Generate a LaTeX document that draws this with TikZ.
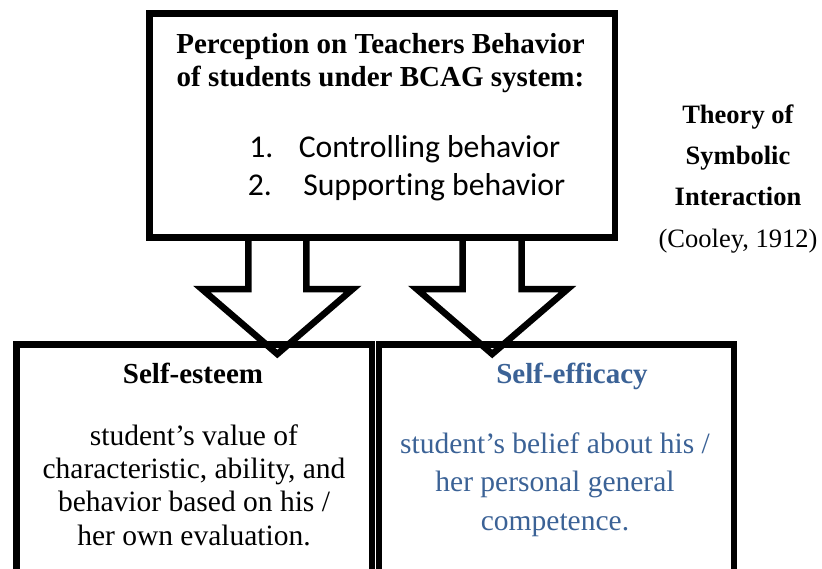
\documentclass[tikz,border=0pt]{standalone}
\usepackage{fontspec}
\setmainfont{Liberation Serif}
\newfontfamily\listfont[Ligatures=NoCommon]{Carlito}
\usepackage{tikz}
\definecolor{efficacyblue}{RGB}{59,98,150}

\begin{document}
\begin{tikzpicture}[x=1pt, y=-1pt, line width=6.5pt,
  lbl/.style={inner sep=0pt, anchor=base, align=center}]

\useasboundingbox (0,0) rectangle (822,568);
\clip (0,0) rectangle (822,568);

\draw (149.5,13.3) rectangle (615,237.5);
\draw (16.5,344.5) rectangle (372,620);
\draw (379,344.5) rectangle (734,620);

\draw (248.3,237.5) -- (248.3,289) -- (201.8,289) -- (277.3,354) -- (352.8,289) -- (306.3,289) -- (306.3,237.5);
\draw (462.7,237.5) -- (462.7,289) -- (416.7,289) -- (492.2,354) -- (567.7,289) -- (521.7,289) -- (521.7,237.5);

\node[lbl, font=\fontsize{29}{33}\selectfont\bfseries] (percep) at (380.5,86) {Perception on Teachers Behavior\\of students under BCAG system:};
\node[lbl, anchor=base west, font=\fontsize{31.7}{38}\selectfont\listfont] (num1) at (246,157) {1.};
\node[lbl, anchor=base west, font=\fontsize{31.7}{38}\selectfont\listfont] (ctrl) at (295.5,157) {Controlling behavior};
\node[lbl, anchor=base west, font=\fontsize{31.7}{38}\selectfont\listfont] (num2) at (244.5,195) {2.};
\node[lbl, anchor=base west, font=\fontsize{31.7}{38}\selectfont\listfont] (supp) at (300,195) {Supporting behavior};

\node[lbl, font=\fontsize{26.5}{41.3}\selectfont] (theory) at (738,247) {\textbf{Theory of}\\\textbf{Symbolic}\\\textbf{Interaction}\\(Cooley, 1912)};

\node[lbl, font=\fontsize{29}{33}\selectfont\bfseries] (esteem) at (193,383) {Self-esteem};
\node[lbl, font=\fontsize{29.5}{33.3}\selectfont] (esteemtxt) at (194,545) {student’s value of\\characteristic, ability, and\\behavior based on his /\\her own evaluation.};

\node[lbl, text=efficacyblue, font=\fontsize{29}{33}\selectfont\bfseries] (efficacy) at (572,383) {Self-efficacy};
\node[lbl, text=efficacyblue, font=\fontsize{29.5}{38.5}\selectfont] (efficacytxt) at (555,530) {student’s belief about his /\\her personal general\\competence.};

\end{tikzpicture}
\end{document}
